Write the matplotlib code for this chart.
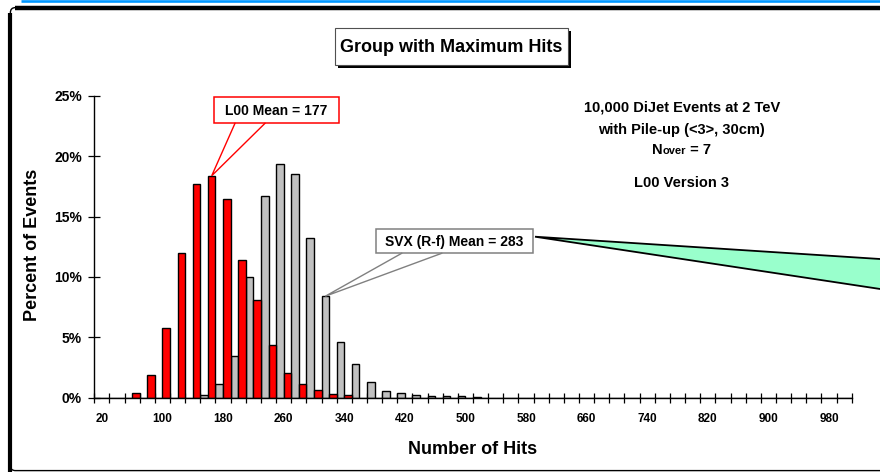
import matplotlib
matplotlib.use("Agg")
import matplotlib.pyplot as plt
import numpy as np
from matplotlib.patches import Polygon, Rectangle, FancyBboxPatch
from matplotlib.offsetbox import TextArea, HPacker, AnnotationBbox

plt.rcParams['font.family'] = ['Liberation Sans', 'DejaVu Sans']
plt.rcParams['font.weight'] = 'bold'

# Histogram bins (upper edge of each 20-hit bin) and percent of events per bin
hits = list(range(20, 1001, 20))
svx_pct = [0] * 7 + [0.22, 1.11, 3.43, 10.0, 16.69, 19.34, 18.48, 13.26, 8.40,
                     4.64, 2.77, 1.28, 0.58, 0.36, 0.20, 0.15, 0.12, 0.10, 0.08] + [0] * 24
l00_pct = [0, 0, 0.36, 1.88, 5.80, 11.96, 17.68, 18.37, 16.44, 11.38, 8.07,
           4.34, 2.05, 1.11, 0.66, 0.31, 0.22] + [0] * 33
x_labels = [str(h) for h in hits[::4]]
y_ticks = [0, 5, 10, 15, 20, 25]

title_text = "Group with Maximum Hits"
l00_label = "L00 Mean = 177"
svx_label = "SVX (R-f) Mean = 283"
info_lines = ["10,000 DiJet Events at 2 TeV", "with Pile-up (<3>, 30cm)"]
version_text = "L00 Version 3"

W, H = 880, 472
fig = plt.figure(figsize=(W / 100, H / 100), dpi=100)
fig.patch.set_facecolor('white')

# ---- main histogram axes ----
x0, x1, y0, y1 = 94.3, 851.7, 397.7, 95.7
ax = fig.add_axes([x0 / W, 1 - y0 / H, (x1 - x0) / W, (y0 - y1) / H])
x = np.arange(len(hits))
ax.bar(x - 0.25, svx_pct, width=0.5, color='#C0C0C0', edgecolor='black', linewidth=1.0, zorder=2)
ax.bar(x + 0.25, l00_pct, width=0.5, color='#FF0000', edgecolor='black', linewidth=1.0, zorder=2)
ax.set_xlim(-0.5, len(hits) - 0.5)
ax.set_ylim(0, 25)
ax.patch.set_alpha(0)

for s in ('top', 'right'):
    ax.spines[s].set_visible(False)
for s in ('left', 'bottom'):
    ax.spines[s].set_linewidth(1.0)
    ax.spines[s].set_color('black')

ax.set_xticks(np.arange(-0.5, len(hits), 1.0))
ax.set_xticklabels([])
ax.tick_params(axis='x', which='major', direction='inout', length=7, width=0.9, color='black')
ax.set_xticks(x[::4], minor=True)
ax.set_xticklabels(x_labels, minor=True, fontsize=8.5, fontweight='bold')
ax.tick_params(axis='x', which='minor', length=0, pad=11)

ax.set_yticks(y_ticks)
ax.set_yticklabels([f"{v}%" for v in y_ticks], fontsize=10, fontweight='bold')
ax.tick_params(axis='y', direction='inout', length=8, width=0.9, pad=5)

fig.text(33 / W, 1 - 245 / H, "Percent of Events", rotation=90, ha='center', va='center',
         fontsize=13, fontweight='bold')
fig.text(473 / W, 1 - 449 / H, "Number of Hits", ha='center', va='center',
         fontsize=13, fontweight='bold')

# ---- overlay in pixel coordinates for frame, boxes and callouts ----
ov = fig.add_axes([0, 0, 1, 1], zorder=5)
ov.set_xlim(0, W)
ov.set_ylim(H, 0)
ov.axis('off')
ov.patch.set_alpha(0)


def to_px(xd, yd):
    px, py = ax.transData.transform((xd, yd))
    return px, H - py


# outer frame
ov.plot([21, W], [1.2, 1.2], color='#0096FF', lw=1.9, solid_capstyle='butt')
ov.add_patch(FancyBboxPatch((10.4, 7.6), W, 463, boxstyle='round,pad=0,rounding_size=5',
                            fc='none', ec='black', lw=1.0))
ov.plot([10.4, 10.4], [13, H], color='black', lw=3.0, solid_capstyle='butt')
ov.plot([15, W], [7.6, 7.6], color='black', lw=3.2, solid_capstyle='butt')

# mint callout pointer entering from the right
ov.add_patch(Polygon([(535, 236.7), (900, 260.3), (900, 292.0)], closed=True,
                     fc='#99FFCC', ec='black', lw=1.3, joinstyle='miter'))

# title box with drop shadow
ov.add_patch(Rectangle((338, 31), 233, 37, fc='black', ec='none'))
ov.add_patch(Rectangle((335, 28), 233, 37, fc='white', ec='#505050', lw=0.8))
ov.text(451.5, 47, title_text, ha='center', va='center', fontsize=13, fontweight='bold')


def callout(box, base, tip, edge, text, fs=10):
    bx, by, bw, bh = box
    ov.add_patch(Polygon([base[0], tip, base[1]], closed=True, fc='white', ec='none'))
    ov.plot([base[0][0], tip[0], base[1][0]], [base[0][1], tip[1], base[1][1]],
            color=edge, lw=1.0, solid_joinstyle='miter')
    ov.add_patch(Rectangle((bx, by), bw, bh, fc='white', ec=edge, lw=1.1))
    ov.text(bx + bw / 2, by + bh / 2 + 0.5, text, ha='center', va='center',
            fontsize=fs, fontweight='bold')


l00_tip = to_px(7 + 0.25, l00_pct[7])
callout((214, 97.3, 125, 26), [(235, 123.3), (265, 123.3)], l00_tip, '#FF0000', l00_label)

svx_tip = to_px(15 - 0.25, svx_pct[15])
callout((376, 229.3, 157.3, 24), [(401.7, 253.3), (441.7, 253.3)], svx_tip, '#808080', svx_label)

# run description
cx = 681.7
ov.text(cx, 107.7, info_lines[0], ha='center', va='center', fontsize=10.5, fontweight='bold')
ov.text(cx, 130, info_lines[1], ha='center', va='center', fontsize=10.5, fontweight='bold')
nover = HPacker(children=[TextArea("N", textprops=dict(fontsize=10.5, fontweight='bold')),
                          TextArea("over", textprops=dict(fontsize=8, fontweight='bold')),
                          TextArea("\u00a0= 7", textprops=dict(fontsize=10.5, fontweight='bold'))],
                align='baseline', pad=0, sep=0)
ov.add_artist(AnnotationBbox(nover, (cx, 150), xycoords='data', frameon=False,
                             box_alignment=(0.5, 0.5), pad=0))
ov.text(cx, 182.7, version_text, ha='center', va='center', fontsize=10.5, fontweight='bold')

fig.savefig("out.png", dpi=100)
